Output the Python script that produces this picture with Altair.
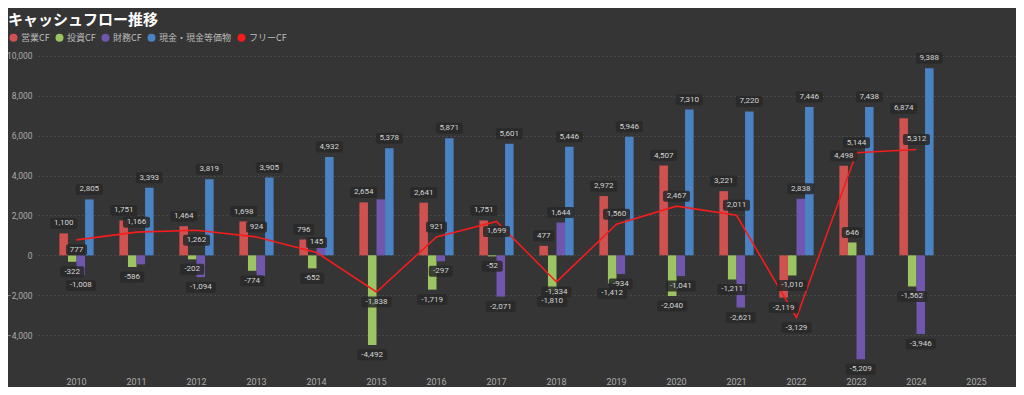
import altair as alt
import pandas as pd

# ---- data ----
years_axis = [str(y) for y in range(2010, 2026)]
data_years = [str(y) for y in range(2010, 2025)]
operating = [1100, 1751, 1464, 1698, 796, 2654, 2641, 1751, 477, 2972, 4507, 3221, -2119, 4498, 6874]
investing = [-322, -586, -202, -774, -652, -4492, -1719, -52, -1810, -1412, -2040, -1211, -1010, 646, -1562]
financing = [-1008, -450, -1094, -1040, 400, 2810, -297, -2071, 1644, -934, -1041, -2621, 2838, -5209, -3946]
cash = [2805, 3393, 3819, 3905, 4932, 5378, 5871, 5601, 5446, 5946, 7310, 7220, 7446, 7438, 9388]
free_cf = [777, 1166, 1262, 924, 145, -1838, 921, 1699, -1334, 1560, 2467, 2011, -3129, 5144, 5312]

bar_series = ["営業CF", "投資CF", "財務CF", "現金・現金等価物"]
line_series = "フリーCF"
all_series = bar_series + [line_series]
colors = ["#CF5250", "#9DC462", "#7156AE", "#4A82C4", "#F51C1C"]

# labels not shown in the reference (hidden by overlap)
hidden_labels = {("2011", "財務CF"), ("2013", "財務CF"), ("2014", "財務CF"), ("2015", "財務CF")}
# side of the free-CF label relative to the line point
free_label_side = ["below", "above", "below", "above", "above", "below", "above", "below",
                   "below", "above", "above", "above", "below", "above", "above"]

# ---- tables ----
rows = []
for i, yr in enumerate(data_years):
    for s, arr in zip(bar_series, [operating, investing, financing, cash]):
        v = arr[i]
        rows.append(dict(year=yr, series=s, value=v, label=f"{v:,}",
                         nch=str(len(f"{v:,}")), show=(yr, s) not in hidden_labels))
df_bars = pd.DataFrame(rows)
df_free = pd.DataFrame(dict(year=data_years, value=free_cf,
                            label=[f"{v:,}" for v in free_cf],
                            nch=[str(len(f"{v:,}")) for v in free_cf],
                            side=free_label_side))

# ---- label box shapes (rounded rectangles, unit = 16px at size 1024) ----
def box_path(w, h=11.0, r=2.0, unit=16.0):
    a, b, q = w / 2 / unit, h / 2 / unit, r / unit
    return (f"M{-a+q},{-b}L{a-q},{-b}Q{a},{-b} {a},{-b+q}L{a},{b-q}Q{a},{b} {a-q},{b}"
            f"L{-a+q},{b}Q{-a},{b} {-a},{b-q}L{-a},{-b+q}Q{-a},{-b} {-a+q},{-b}Z")

box_widths = {"3": 21, "4": 24, "5": 27, "6": 30}
shape_scale = alt.Scale(domain=list(box_widths.keys()),
                        range=[box_path(w) for w in box_widths.values()])

# ---- encodings ----
FONT = "Roboto"
JP = "Noto Sans CJK JP"
x_enc = alt.X("year:N", scale=alt.Scale(domain=years_axis, paddingInner=0.43, paddingOuter=0.357),
              axis=alt.Axis(title=None, labelAngle=0, ticks=False, domain=False, grid=False,
                            labelColor="#ababab", labelFontSize=9, labelFont=FONT, labelPadding=12))
xo_enc = alt.XOffset("series:N", scale=alt.Scale(domain=bar_series, paddingInner=0, paddingOuter=0))
y_scale = alt.Scale(domain=[-5500, 10300], nice=False, zero=False)
y_axis = alt.Axis(title=None, values=list(range(-4000, 10001, 2000)), format=",d",
                  ticks=False, tickSize=0, domain=False, labelPadding=6,
                  labelColor="#ababab", labelFontSize=8.5, labelFont=FONT,
                  grid=True, gridColor="#5e5e5e", gridDash=[1, 3], gridWidth=1)
color_enc = alt.Color("series:N", scale=alt.Scale(domain=all_series, range=colors),
                      legend=alt.Legend(orient="none", legendX=-29, legendY=-17, direction="horizontal",
                                        title=None, symbolType="circle", symbolSize=64,
                                        symbolStrokeWidth=0, labelFontSize=9, labelFont=JP,
                                        labelColor="#bdbdbd", columnPadding=5, labelOffset=3))

BOX = "#282828"
TXT = "#d4d4d4"

bars = alt.Chart(df_bars).mark_bar().encode(x=x_enc, xOffset=xo_enc,
                                            y=alt.Y("value:Q", scale=y_scale, axis=y_axis),
                                            color=color_enc)

line = alt.Chart(df_free).mark_line(strokeWidth=1.6, color=colors[-1]).encode(
    x=x_enc, y=alt.Y("value:Q", scale=y_scale, axis=y_axis))

bar_lab = alt.Chart(df_bars).transform_filter("datum.show").transform_calculate(
    ly="datum.value >= 0 ? datum.value + 500 : datum.value - 500")
bar_boxes = bar_lab.mark_point(filled=True, size=1024, color=BOX, opacity=0.85, strokeWidth=0).encode(
    x=x_enc, xOffset=xo_enc, y=alt.Y("ly:Q", scale=y_scale, axis=y_axis),
    shape=alt.Shape("nch:N", scale=shape_scale, legend=None))
bar_text = bar_lab.mark_text(font=FONT, fontSize=8, color=TXT, baseline="middle", align="center").encode(
    x=x_enc, xOffset=xo_enc, y=alt.Y("ly:Q", scale=y_scale, axis=y_axis), text="label:N")

free_lab = alt.Chart(df_free).transform_calculate(
    ly="datum.side == 'above' ? datum.value + 500 : datum.value - 500")
free_boxes = free_lab.mark_point(filled=True, size=1024, color=BOX, opacity=0.85, strokeWidth=0).encode(
    x=x_enc, y=alt.Y("ly:Q", scale=y_scale, axis=y_axis),
    shape=alt.Shape("nch:N", scale=shape_scale, legend=None))
free_text = free_lab.mark_text(font=FONT, fontSize=8, color=TXT, baseline="middle", align="center").encode(
    x=x_enc, y=alt.Y("ly:Q", scale=y_scale, axis=y_axis), text="label:N")

chart = alt.layer(bars, line, bar_boxes, bar_text, free_boxes, free_text).properties(
    width=977, height=315,
    title=alt.TitleParams("キャッシュフロー推移", anchor="start", frame="group", dx=-30, dy=-1,
                          font=JP, fontSize=15, fontWeight="bold", color="#ffffff"),
    autosize=alt.AutoSizeParams(type="none"),
    padding={"left": 30, "top": 42, "right": 1, "bottom": 22},
    background="#353535",
).configure_view(stroke=None)

chart.save("out.html", embed_options={"renderer": "svg", "actions": False})
